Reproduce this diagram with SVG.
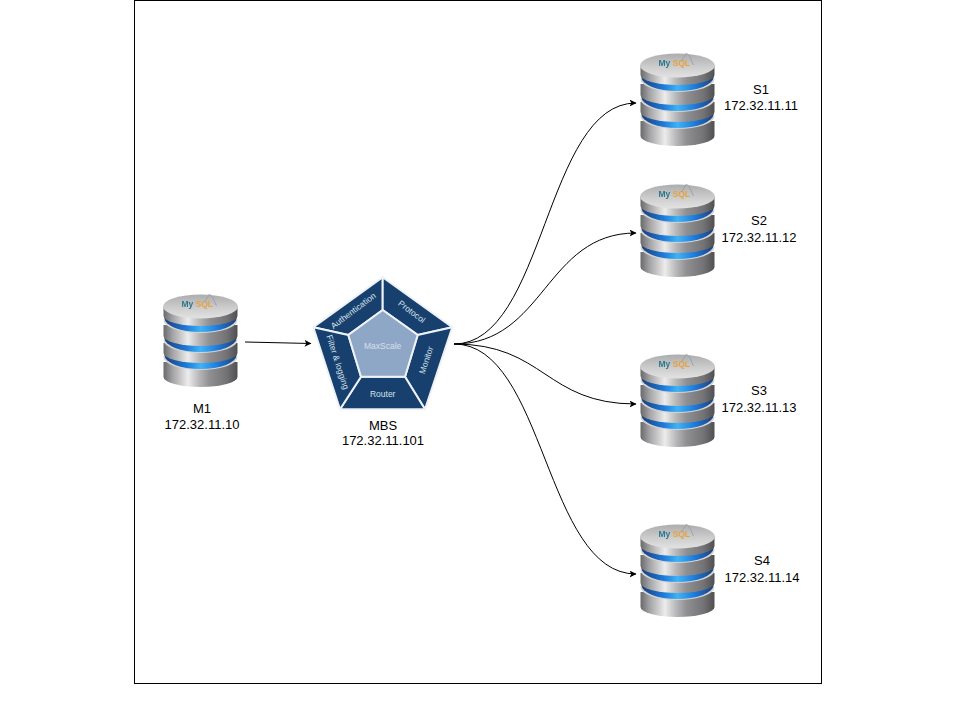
<svg xmlns="http://www.w3.org/2000/svg" width="960" height="720" viewBox="0 0 960 720">
<style>
.lbl{font:13px "Liberation Sans",Arial,sans-serif;fill:#000;text-anchor:middle}
.pt{font:8.5px "Liberation Sans",Arial,sans-serif;fill:#d7e0ea;text-anchor:middle}
.conn{fill:none;stroke:#000;stroke-width:1;marker-end:url(#arrow)}
.my{font:8.5px "Liberation Sans",Arial,sans-serif;font-weight:bold}
.seg{fill:#17406f;stroke:#eef2f6;stroke-width:2;stroke-linejoin:round}
</style>
<defs>
<marker id="arrow" markerWidth="8" markerHeight="8" refX="6.5" refY="3.5" orient="auto" markerUnits="userSpaceOnUse"><path d="M0 0L7 3.5L0 7L1.8 3.5Z" fill="#000"/></marker>
<linearGradient id="metal" x1="0" x2="1" y1="0" y2="0">
<stop offset="0" stop-color="#69696b"/><stop offset=".12" stop-color="#a2a2a4"/><stop offset=".33" stop-color="#ececec"/><stop offset=".48" stop-color="#b8b8ba"/><stop offset=".62" stop-color="#909092"/><stop offset=".85" stop-color="#737375"/><stop offset="1" stop-color="#505052"/>
</linearGradient>
<linearGradient id="cap" x1="0" x2="0" y1="0" y2="1">
<stop offset="0" stop-color="#adadaf"/><stop offset=".6" stop-color="#cfcfd0"/><stop offset="1" stop-color="#e2e2e3"/>
</linearGradient>
<linearGradient id="blue" x1="0" x2="1" y1="0" y2="0">
<stop offset="0" stop-color="#1a3f7a"/><stop offset=".3" stop-color="#1d78d8"/><stop offset=".5" stop-color="#3fb2f6"/><stop offset=".75" stop-color="#1d78d8"/><stop offset="1" stop-color="#1a3f7a"/>
</linearGradient>
<filter id="soft" x="-10%" y="-10%" width="120%" height="120%"><feGaussianBlur stdDeviation="0.7"/></filter>
<g id="db">
<g filter="url(#soft)">
<path d="M-37 68V83A37 10 0 0 0 37 83V68Z" fill="url(#metal)"/>
<ellipse cx="0" cy="63" rx="37" ry="13" fill="#d4d4d5"/>
<ellipse cx="0" cy="61" rx="36" ry="14" fill="url(#blue)"/>
<path d="M-37 49V59A37 10 0 0 0 37 59V49Z" fill="url(#metal)"/>
<ellipse cx="0" cy="46" rx="37" ry="13" fill="#d4d4d5"/>
<ellipse cx="0" cy="44" rx="36" ry="14" fill="url(#blue)"/>
<path d="M-37 31V42A37 10 0 0 0 37 42V31Z" fill="url(#metal)"/>
<ellipse cx="0" cy="26" rx="37" ry="13" fill="#d4d4d5"/>
<ellipse cx="0" cy="24" rx="36" ry="14" fill="url(#blue)"/>
<path d="M-37 13V22A37 10 0 0 0 37 22V13Z" fill="url(#metal)"/>
<ellipse cx="0" cy="12.5" rx="37.5" ry="12" fill="url(#cap)"/>
<text class="my" x="-19" y="13" fill="#2c7a8c">My</text>
<text class="my" x="-5" y="13" fill="#e8a33d">SQL</text>
</g>
<path d="M4 8L9 0L12 3L16 12" fill="none" stroke="#8a9aa0" stroke-width=".7"/>
</g>
</defs>
<rect width="960" height="720" fill="#fff"/>
<rect x="134.5" y="0.5" width="687" height="683" fill="#fff" stroke="#000"/>
<g id="connectors">
<path class="conn" d="M245 342L311 343.5"/>
<path class="conn" d="M454 344C545 344 545 103 636 103"/>
<path class="conn" d="M454 344C545 344 545 233 636 233"/>
<path class="conn" d="M454 344C545 344 545 404 636 404"/>
<path class="conn" d="M454 344C545 344 545 574 636 574"/>
</g>
<g id="M1"><use href="#db" x="200.5" y="294"/><text class="lbl" x="202" y="413">M1</text><text class="lbl" x="202" y="429">172.32.11.10</text></g>
<g id="MBS">
<path class="seg" d="M382.7 277.3L382.7 310L348.3 335L313.3 327.3Z"/>
<path class="seg" d="M382.7 277.3L452.3 327.3L417.7 335L382.7 310Z"/>
<path class="seg" d="M452.3 327.3L425 409.3L405 376.7L417.7 335Z"/>
<path class="seg" d="M425 409.3L340 409.3L361 376.7L405 376.7Z"/>
<path class="seg" d="M340 409.3L313.3 327.3L348.3 335L361 376.7Z"/>
<path d="M382.7 310L417.7 335L405 376.7L361 376.7L348.3 335Z" fill="#8ea7c6" stroke="#eef2f6" stroke-width="2"/>
<text class="pt" x="382.7" y="349">MaxScale</text>
<text class="pt" x="382.7" y="397">Router</text>
<text class="pt" transform="translate(355 313) rotate(-37)">Authentication</text>
<text class="pt" transform="translate(410 314) rotate(37)">Protocol</text>
<text class="pt" transform="translate(335 363) rotate(72)">Filter &amp; logging</text>
<text class="pt" transform="translate(429 361) rotate(-72)">Monitor</text>
<text class="lbl" x="383" y="430">MBS</text><text class="lbl" x="383" y="445">172.32.11.101</text>
</g>
<g id="S1"><use href="#db" x="677.5" y="53"/><text class="lbl" x="761" y="94">S1</text><text class="lbl" x="761" y="110">172.32.11.11</text></g>
<g id="S2"><use href="#db" x="677.5" y="184"/><text class="lbl" x="759" y="225">S2</text><text class="lbl" x="759" y="242">172.32.11.12</text></g>
<g id="S3"><use href="#db" x="677.5" y="354"/><text class="lbl" x="759" y="395">S3</text><text class="lbl" x="759" y="412">172.32.11.13</text></g>
<g id="S4"><use href="#db" x="677.5" y="524"/><text class="lbl" x="762" y="565">S4</text><text class="lbl" x="762" y="582">172.32.11.14</text></g>
</svg>
